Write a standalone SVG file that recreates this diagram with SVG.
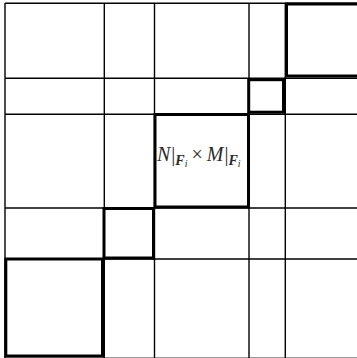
<svg xmlns="http://www.w3.org/2000/svg" width="357" height="358" viewBox="0 0 357 358">
<style>
.thin{stroke:#000;stroke-width:1.4;fill:none}
.thick{stroke:#000;stroke-width:3;fill:none}
.lbl{font-family:"Liberation Serif","Times New Roman",serif;font-size:20px;fill:#2a2a2a}
.it{font-style:italic}
</style>
<rect width="357" height="358" fill="#fff"/>
<g id="grid">
<line class="thin" x1="5" y1="3.3" x2="357" y2="3.3"/>
<line class="thin" x1="5" y1="78.3" x2="357" y2="78.3"/>
<line class="thin" x1="5" y1="114.3" x2="357" y2="114.3"/>
<line class="thin" x1="5" y1="208" x2="357" y2="208"/>
<line class="thin" x1="5" y1="259" x2="357" y2="259"/>
<line x1="5" y1="357.5" x2="357" y2="357.5" stroke="#999" stroke-width="1"/>
<line class="thin" x1="5" y1="3" x2="5" y2="358"/>
<line class="thin" x1="104.3" y1="3" x2="104.3" y2="358"/>
<line class="thin" x1="154.5" y1="3" x2="154.5" y2="358"/>
<line class="thin" x1="249" y1="3" x2="249" y2="358"/>
<line class="thin" x1="285.3" y1="3" x2="285.3" y2="358"/>
</g>
<g id="block1"><rect class="thick" x="5.8" y="259" width="96.7" height="97"/></g>
<g id="block2"><rect class="thick" x="104" y="208.5" width="49.5" height="49.5"/></g>
<g id="block3"><rect class="thick" x="155" y="114.5" width="93.5" height="92.5"/>
<text class="lbl" x="157" y="161"><tspan class="it">N</tspan><tspan dx="1">|</tspan><tspan class="it" font-size="14" font-weight="bold" dy="4">F</tspan><tspan class="it" font-size="10" dy="2">i</tspan><tspan dx="4" dy="-6">×</tspan><tspan class="it" dx="4">M</tspan><tspan dx="1">|</tspan><tspan class="it" font-size="14" font-weight="bold" dy="4">F</tspan><tspan class="it" font-size="10" dy="2">i</tspan></text>
</g>
<g id="block4"><rect class="thick" x="248.7" y="79.7" width="34.8" height="32.5"/></g>
<g id="block5"><rect class="thick" x="286.5" y="4" width="75" height="72"/></g>
</svg>
